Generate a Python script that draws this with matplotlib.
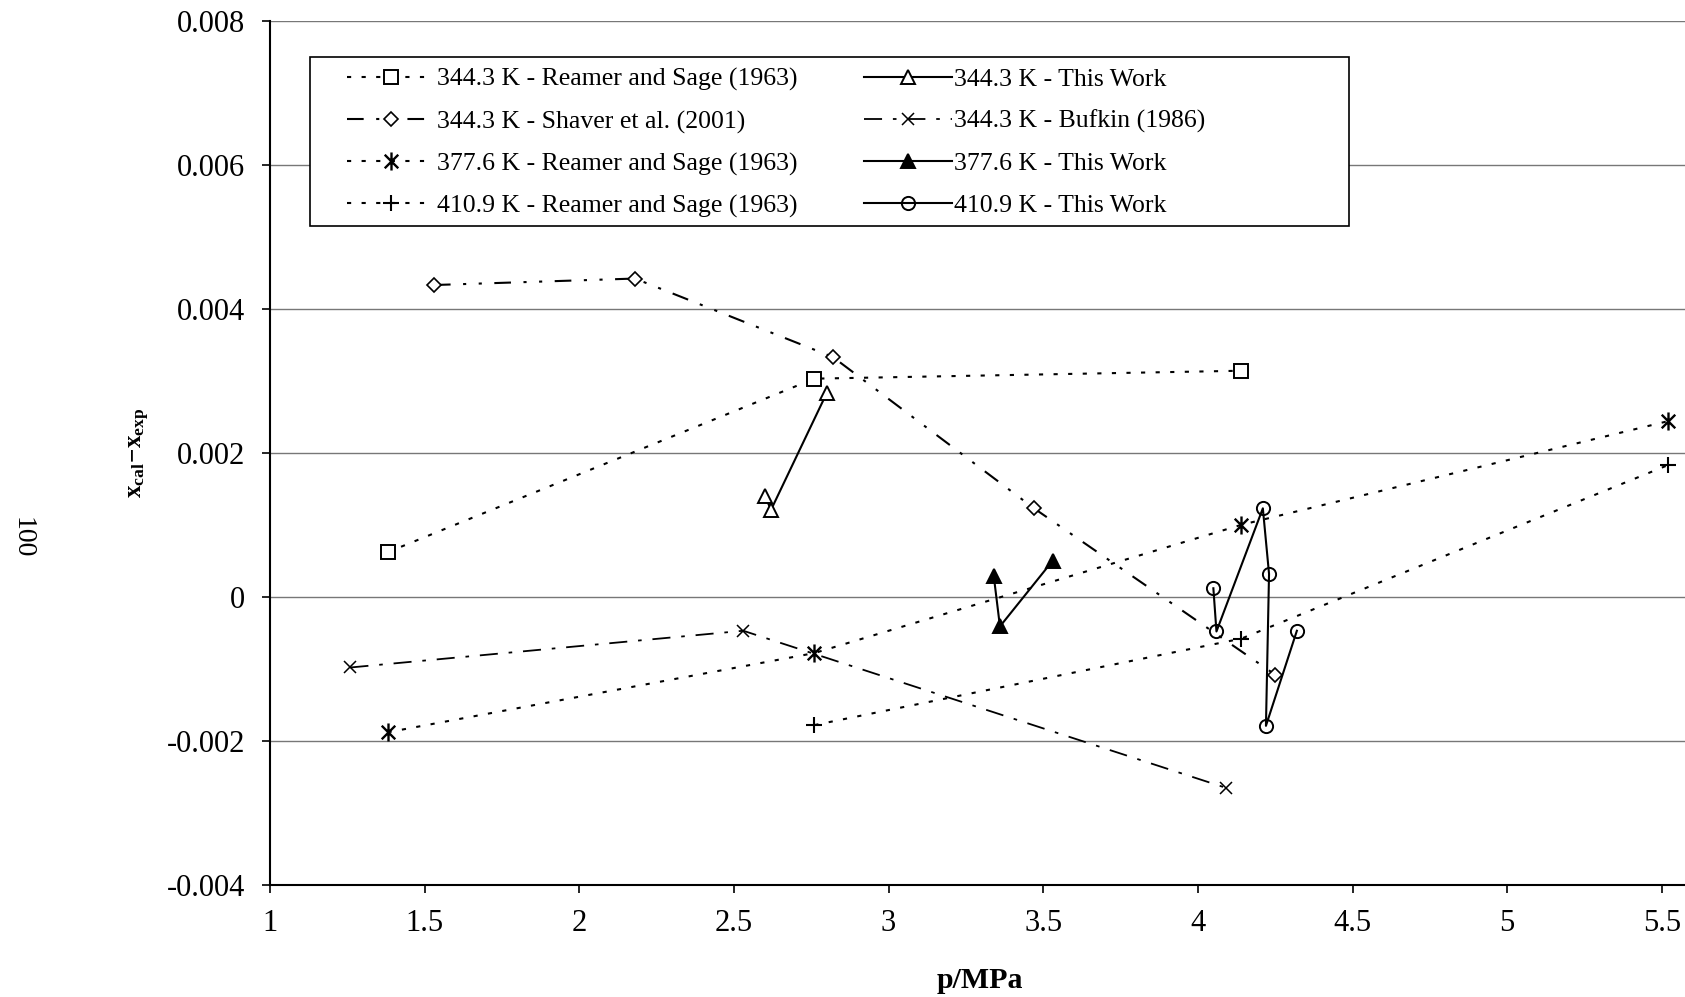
import numpy as np
import matplotlib.pyplot as plt
from matplotlib.path import Path
from matplotlib.patches import Rectangle
from matplotlib.ticker import FuncFormatter

plt.rcParams['font.family'] = ['Liberation Serif', 'DejaVu Serif']
plt.rcParams['mathtext.fontset'] = 'custom'
plt.rcParams['mathtext.rm'] = 'Liberation Serif'
plt.rcParams['mathtext.it'] = 'Liberation Serif:italic'
plt.rcParams['mathtext.bf'] = 'Liberation Serif:bold'
plt.rcParams['axes.unicode_minus'] = False

# 344.3 K - Reamer and Sage (1963)
p_rs344 = [1.38, 2.76, 4.14]
d_rs344 = [0.00062, 0.00303, 0.00314]
# 344.3 K - Shaver et al. (2001)
p_sh344 = [1.53, 2.18, 2.82, 3.47, 4.25]
d_sh344 = [0.00433, 0.00442, 0.00333, 0.00123, -0.00108]
# 377.6 K - Reamer and Sage (1963)
p_rs377 = [1.38, 2.76, 4.14, 5.52]
d_rs377 = [-0.00188, -0.00078, 0.00100, 0.00244]
# 410.9 K - Reamer and Sage (1963)
p_rs410 = [2.76, 4.14, 5.52]
d_rs410 = [-0.00178, -0.00058, 0.00183]
# 344.3 K - Bufkin (1986)
p_bu344 = [1.26, 2.53, 4.09]
d_bu344 = [-0.00098, -0.00047, -0.00265]
# this work
p_tw344 = [2.60, 2.62, 2.80]
d_tw344 = [0.00140, 0.00121, 0.00283]
p_tw377 = [3.34, 3.36, 3.53]
d_tw377 = [0.00029, -0.00041, 0.00050]
p_tw410 = [4.05, 4.06, 4.21, 4.23, 4.22, 4.32]
d_tw410 = [0.00012, -0.00048, 0.00123, 0.00032, -0.00179, -0.00047]

labels = [
    '344.3 K - Reamer and Sage (1963)',
    '344.3 K - Shaver et al. (2001)',
    '377.6 K - Reamer and Sage (1963)',
    '410.9 K - Reamer and Sage (1963)',
    '344.3 K - This Work',
    '344.3 K - Bufkin (1986)',
    '377.6 K - This Work',
    '410.9 K - This Work',
]

# asterisk marker: x with a vertical bar
asterisk = Path([(0, -1), (0, 1), (-0.75, -0.75), (0.75, 0.75), (-0.75, 0.75), (0.75, -0.75)],
                [Path.MOVETO, Path.LINETO] * 3)

W, H = 1685, 997
fig = plt.figure(figsize=(W / 100, H / 100), dpi=100)
ax = fig.add_axes([270 / W, 1 - 885 / H, (W - 270) / W, (885 - 20.7) / H])

dotted = (0, (2, 5))
dashdotdot = (0, (8, 6, 1.5, 6, 1.5, 6))
dashdot = (0, (10, 6, 2, 6))

h = []
h += ax.plot(p_rs344, d_rs344, color='k', ls=dotted, lw=1.5, marker='s', ms=9.5,
             mfc='white', mec='k', mew=1.4)
h += ax.plot(p_sh344, d_sh344, color='k', ls=dashdotdot, lw=1.5, marker='D', ms=7,
             mfc='white', mec='k', mew=1.2)
h += ax.plot(p_rs377, d_rs377, color='k', ls=dotted, lw=1.5, marker=asterisk, ms=13,
             mec='k', mew=1.7)
h += ax.plot(p_rs410, d_rs410, color='k', ls=dotted, lw=1.5, marker='+', ms=12,
             mec='k', mew=1.5)
h += ax.plot(p_tw344, d_tw344, color='k', ls='-', lw=1.5, marker='^', ms=10,
             mfc='white', mec='k', mew=1.4)
h += ax.plot(p_bu344, d_bu344, color='k', ls=dashdot, lw=1.3, marker='x', ms=9,
             mec='k', mew=1.1)
h += ax.plot(p_tw377, d_tw377, color='k', ls='-', lw=1.5, marker='^', ms=10,
             mfc='k', mec='k', mew=1.4)
h += ax.plot(p_tw410, d_tw410, color='k', ls='-', lw=1.5, marker='o', ms=9.5,
             mfc='none', mec='k', mew=1.4)

ax.set_xlim(1, 1 + (W - 270) / 309.3)
ax.set_ylim(-0.004, 0.008)
ax.set_xticks([1, 1.5, 2, 2.5, 3, 3.5, 4, 4.5, 5, 5.5])
ax.set_xticklabels(['1', '1.5', '2', '2.5', '3', '3.5', '4', '4.5', '5', '5.5'])
ax.set_yticks(np.arange(-0.004, 0.0081, 0.002))
ax.yaxis.set_major_formatter(FuncFormatter(lambda v, _: '0' if abs(v) < 1e-9 else f'{v:.3f}'))

ax.yaxis.grid(True, color='#777777', lw=1.0)
ax.set_axisbelow(True)
for s in ['top', 'right']:
    ax.spines[s].set_visible(False)
for s in ['left', 'bottom']:
    ax.spines[s].set_linewidth(1.5)
ax.tick_params(axis='both', direction='out', length=6, width=1.2, labelsize=22)
ax.tick_params(axis='y', pad=12)
ax.tick_params(axis='x', pad=11.5)

# legend box
ax.add_patch(Rectangle((309.5 / W, 1 - 225.7 / H), (1348.6 - 309.5) / W, (225.7 - 57) / H,
                       transform=fig.transFigure, facecolor='white', edgecolor='k',
                       lw=1.2, zorder=4, clip_on=False))
ax.legend(h, labels, ncol=2, loc='upper left', bbox_to_anchor=(347 / W, 1 - 68 / H),
          bbox_transform=fig.transFigure, frameon=False, fontsize=18.5, borderpad=0,
          borderaxespad=0, handlelength=3.4, handletextpad=0.1, columnspacing=2.6,
          labelspacing=0.73, numpoints=1)

fig.text(140 / W, 1 - 453 / H, r'$\mathbf{x_{cal}\!-\!x_{exp}}$', rotation=90,
         fontsize=18, ha='center', va='center')
fig.text(980 / W, 1 - 980 / H, 'p/MPa', fontweight='bold', fontsize=21.5,
         ha='center', va='center')
fig.text(22 / W, 1 - 538 / H, '100', rotation=270, fontsize=20, ha='center', va='center')

fig.savefig('out.png', dpi=100)
